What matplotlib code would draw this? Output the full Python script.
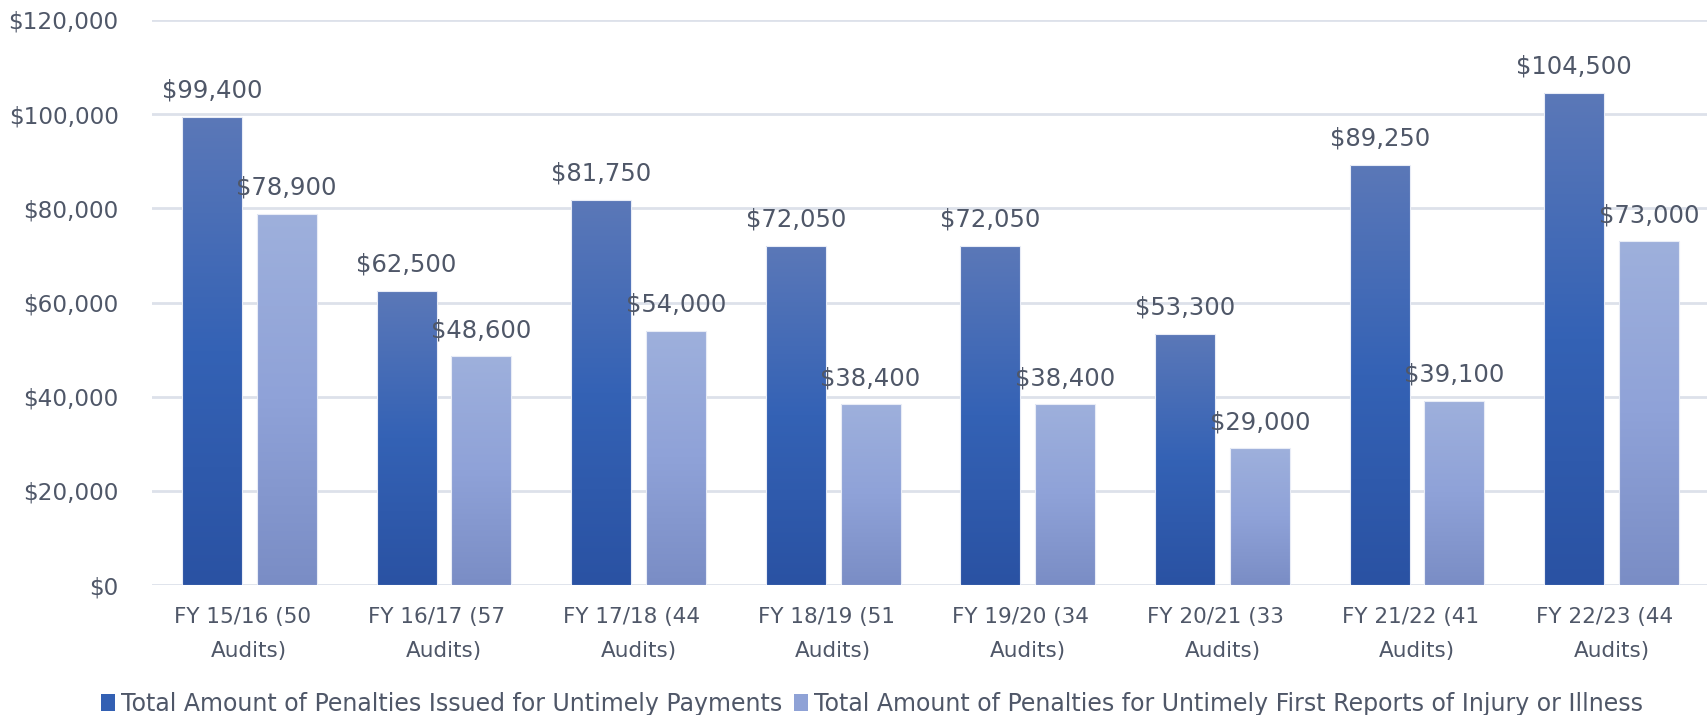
import matplotlib
matplotlib.use("AGG")
import matplotlib.pyplot as plt
import numpy as np
from matplotlib.colors import LinearSegmentedColormap
from matplotlib.patches import Patch
from matplotlib.ticker import FuncFormatter

categories = ["FY 15/16 (50  \nAudits)", "FY 16/17 (57  \nAudits)", "FY 17/18 (44  \nAudits)",
              "FY 18/19 (51  \nAudits)", "FY 19/20 (34  \nAudits)", "FY 20/21 (33  \nAudits)",
              "FY 21/22 (41  \nAudits)", "FY 22/23 (44  \nAudits)"]
payments = [99400, 62500, 81750, 72050, 72050, 53300, 89250, 104500]
first_reports = [78900, 48600, 54000, 38400, 38400, 29000, 39100, 73000]
series_names = ["Total Amount of Penalties Issued for Untimely Payments",
                "Total Amount of Penalties for Untimely First Reports of Injury or Illness"]

text_color = "#4f5768"
grid_color = "#dde1ea"
plt.rcParams["font.family"] = "DejaVu Sans"

# gradients, bottom -> top
dark_cmap = LinearSegmentedColormap.from_list("dark", ["#2a52a3", "#3462b5", "#5b78b8"])
light_cmap = LinearSegmentedColormap.from_list("light", ["#7a8dc5", "#8fa2d8", "#9eb0dc"])

fig = plt.figure(figsize=(17.07, 7.15), dpi=100)
ax = fig.add_axes([152 / 1707, 1 - 585 / 715, 1557 / 1707, 565 / 715])

x = np.arange(len(categories))
width = 0.308
offset = 0.192
grad = np.linspace(0, 1, 256).reshape(-1, 1)


def gradient_bars(xs, vals, cmap):
    bars = ax.bar(xs, vals, width, color="none", edgecolor="#e8ecf6", linewidth=0.8, zorder=3)
    for b in bars:
        x0 = b.get_x()
        h = b.get_height()
        im = ax.imshow(grad, cmap=cmap, origin="lower", aspect="auto",
                       extent=(x0, x0 + b.get_width(), 0, h), zorder=2)
        im.set_clip_path(b)
    return bars


gradient_bars(x - offset, payments, dark_cmap)
gradient_bars(x + offset, first_reports, light_cmap)

for xi, v in zip(x - offset, payments):
    ax.text(xi, v + 3000, "${:,}".format(v), ha="center", va="bottom", fontsize=17.5, color=text_color)
for xi, v in zip(x + offset, first_reports):
    ax.text(xi, v + 3000, "${:,}".format(v), ha="center", va="bottom", fontsize=17.5, color=text_color)

ax.set_xlim(-0.5, len(categories) - 0.5)
ax.set_ylim(0, 120000)
ax.set_yticks(range(0, 120001, 20000))
ax.yaxis.set_major_formatter(FuncFormatter(lambda v, p: "${:,.0f}".format(v)))
ax.set_xticks(x)
ax.set_xticklabels(categories, fontsize=15.5, color=text_color, linespacing=1.85)
ax.tick_params(axis="y", labelsize=16.7, labelcolor=text_color, length=0, pad=24)
ax.tick_params(axis="x", length=0, pad=16)
ax.grid(axis="y", color=grid_color, linewidth=2, zorder=0)
ax.set_axisbelow(True)
for s in ax.spines.values():
    s.set_visible(False)

handles = [Patch(facecolor="#3360b3"), Patch(facecolor="#8fa2d6")]
fig.legend(handles, series_names, loc="center", bbox_to_anchor=(872 / 1707, 1 - 704 / 715), ncol=2,
           frameon=False, fontsize=17, labelcolor=text_color, handlelength=0.6, handleheight=0.75,
           handletextpad=0.25, columnspacing=0.5, borderaxespad=0)

fig.savefig("out.png", dpi=100)
